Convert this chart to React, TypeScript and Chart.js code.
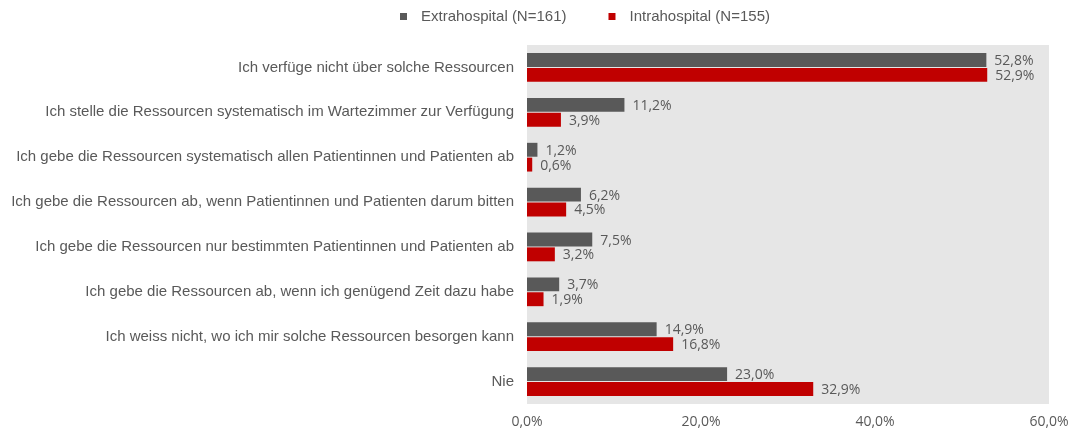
import React, { useEffect, useRef } from "react";
import { Chart, registerables } from "chart.js";

Chart.register(...registerables);

const categories = [
  "Ich verfüge nicht über solche Ressourcen",
  "Ich stelle die Ressourcen systematisch im Wartezimmer zur Verfügung",
  "Ich gebe die Ressourcen systematisch allen Patientinnen und Patienten ab",
  "Ich gebe die Ressourcen ab, wenn Patientinnen und Patienten darum bitten",
  "Ich gebe die Ressourcen nur bestimmten Patientinnen und Patienten ab",
  "Ich gebe die Ressourcen ab, wenn ich genügend Zeit dazu habe",
  "Ich weiss nicht, wo ich mir solche Ressourcen besorgen kann",
  "Nie",
];
const extraLabel = "Extrahospital (N=161)";
const intraLabel = "Intrahospital (N=155)";
const extraValues = [52.8, 11.2, 1.2, 6.2, 7.5, 3.7, 14.9, 23.0];
const intraValues = [52.9, 3.9, 0.6, 4.5, 3.2, 1.9, 16.8, 32.9];
const xTicks = [0, 20, 40, 60];

const fmt = (v: number) => v.toFixed(1).replace(".", ",") + "%";

const AREA_LEFT = 527;
const AREA_RIGHT = 1049;
const AREA_TOP = 45;
const AREA_BOTTOM = 404;
const W = 1069;
const H = 430;
const LEGEND_X = 400;
const LEGEND_Y = 17;

export default function App() {
  const ref = useRef<HTMLCanvasElement | null>(null);
  useEffect(() => {
    document.body.style.margin = "0";
    const canvas = ref.current!;
    const bgPlugin = {
      id: "areaBg",
      beforeDraw(chart: any) {
        const { ctx, chartArea } = chart;
        ctx.save();
        ctx.fillStyle = "#e6e6e6";
        ctx.fillRect(chartArea.left, chartArea.top, chartArea.right - chartArea.left, chartArea.bottom - chartArea.top);
        ctx.restore();
      },
    };
    const customLegend = {
      id: "customLegend",
      afterDraw(chart: any) {
        const { ctx } = chart;
        ctx.save();
        ctx.font = "15px 'Liberation Sans', Arial";
        ctx.textBaseline = "middle";
        ctx.textAlign = "left";
        let x = LEGEND_X;
        chart.data.datasets.forEach((ds: any) => {
          ctx.fillStyle = ds.backgroundColor;
          ctx.fillRect(x, LEGEND_Y - 4, 7, 7);
          x += 7 + 14;
          ctx.fillStyle = "#595959";
          ctx.fillText(ds.label, x, LEGEND_Y);
          x += ctx.measureText(ds.label).width + 42;
        });
        ctx.restore();
      },
    };
    const valueLabels = {
      id: "valueLabels",
      afterDatasetsDraw(chart: any) {
        const { ctx } = chart;
        ctx.save();
        ctx.font = "14px 'Open Sans'";
        ctx.fillStyle = "#595959";
        ctx.textAlign = "left";
        ctx.textBaseline = "middle";
        chart.data.datasets.forEach((ds: any, i: number) => {
          const meta = chart.getDatasetMeta(i);
          meta.data.forEach((el: any, j: number) => {
            ctx.fillText(fmt(ds.data[j]), el.x + 8, el.y + 1);
          });
        });
        ctx.restore();
      },
    };
    const chart = new Chart(canvas, {
      type: "bar",
      data: {
        labels: categories,
        datasets: [
          {
            label: extraLabel,
            data: extraValues,
            backgroundColor: "#595959",
            categoryPercentage: 0.66,
            barPercentage: 0.94,
          },
          {
            label: intraLabel,
            data: intraValues,
            backgroundColor: "#c00000",
            categoryPercentage: 0.66,
            barPercentage: 0.94,
          },
        ],
      },
      options: {
        indexAxis: "y",
        responsive: false,
        animation: false,
        devicePixelRatio: 1,
        layout: { padding: { left: 0, right: W - AREA_RIGHT, top: AREA_TOP, bottom: 0 } },
        plugins: {
          legend: { display: false },
          tooltip: { enabled: false },
        },
        scales: {
          x: {
            min: 0,
            max: 60,
            afterBuildTicks(scale: any) {
              scale.ticks = xTicks.map((v) => ({ value: v }));
            },
            afterFit(scale: any) {
              scale.height = H - AREA_BOTTOM;
              scale.paddingLeft = 0;
              scale.paddingRight = 0;
            },
            grid: { display: false, drawTicks: false },
            border: { display: false },
            ticks: {
              padding: 10,
              color: "#595959",
              font: { family: "'Open Sans'", size: 14 },
              callback: (v: any) => fmt(Number(v)),
            },
          },
          y: {
            afterFit(scale: any) {
              scale.width = AREA_LEFT;
              scale.paddingTop = 0;
              scale.paddingBottom = 0;
            },
            grid: { display: false, drawTicks: false },
            border: { display: false },
            ticks: {
              padding: 13,
              autoSkip: false,
              color: "#595959",
              font: { family: "'Liberation Sans', Arial", size: 15 },
            },
          },
        },
      },
      plugins: [bgPlugin, valueLabels, customLegend],
    } as any);
    return () => chart.destroy();
  }, []);
  return (
    <div style={{ width: W, height: H }}>
      <canvas ref={ref} width={W} height={H} />
    </div>
  );
}
